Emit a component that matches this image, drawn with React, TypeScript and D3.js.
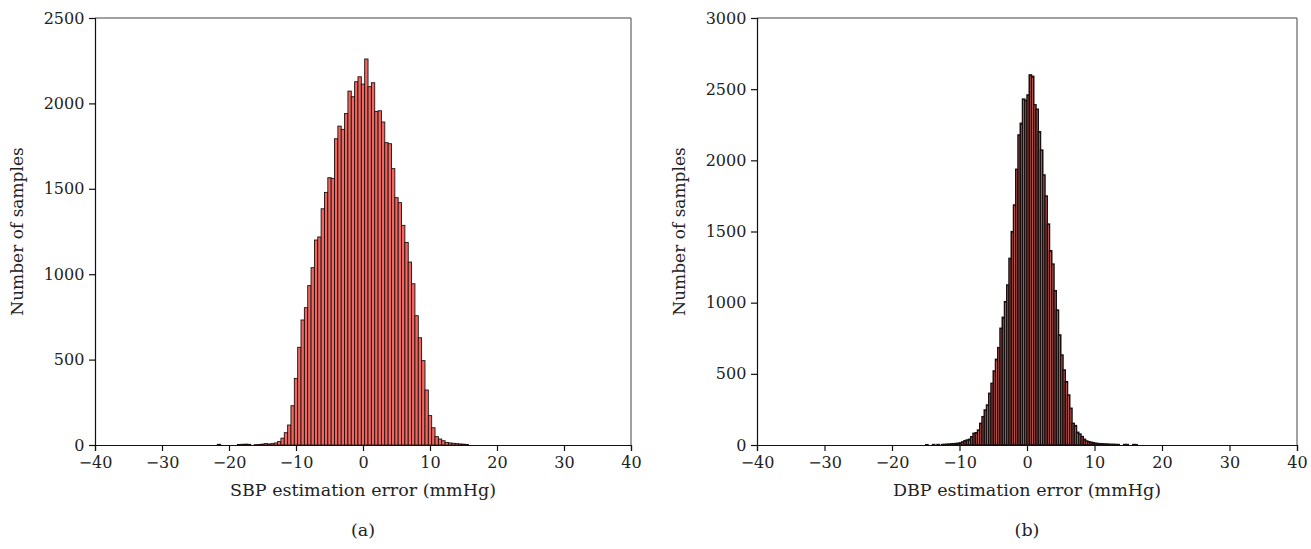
import { useEffect, useRef } from 'react';
import * as d3 from 'd3';

// SBP error histogram: bin centers every 0.5 mmHg starting at -22
const sbpStart = -22;
const sbpBinWidth = 0.5;
const sbpCounts = [
  0, 4, 0, 0, 0, 0, 0, 3, 4, 5, 4, 0, 2, 3, 5, 8, 6, 8, 12, 20, 40, 72, 117, 230,
  390, 572, 732, 804, 933, 1038, 1200, 1218, 1383, 1479, 1565, 1561, 1793, 1867,
  1848, 1941, 2072, 2039, 2127, 2156, 2113, 2260, 2098, 2121, 1953, 1957, 1891,
  1770, 1764, 1618, 1448, 1419, 1286, 1186, 1071, 944, 757, 628, 494, 322, 172,
  101, 49, 35, 25, 15, 12, 10, 8, 6, 5, 3, 0,
];

// DBP error histogram: bin left edges every 1/3 mmHg starting at -16
const dbpStart = -16;
const dbpBinWidth = 1 / 3;
const dbpCounts = [
  0, 0, 0, 2, 0, 0, 3, 0, 3, 0, 3, 4, 5, 6, 8, 9, 10, 12, 15, 22, 30, 35, 40, 58,
  82, 86, 105, 152, 199, 246, 281, 363, 433, 520, 602, 684, 820, 897, 1007, 1124,
  1311, 1499, 1686, 1937, 2178, 2260, 2430, 2420, 2459, 2600, 2590, 2390, 2359,
  2201, 2072, 1897, 1749, 1552, 1365, 1271, 1084, 948, 773, 632, 527, 445, 351,
  258, 152, 136, 89, 77, 59, 40, 28, 23, 19, 16, 12, 10, 9, 8, 7, 6, 5, 4, 4, 3,
  3, 0, 0, 3, 3, 0, 0, 3, 2,
];

const xTicks = [-40, -30, -20, -10, 0, 10, 20, 30, 40];
const sbpYTicks = [0, 500, 1000, 1500, 2000, 2500];
const dbpYTicks = [0, 500, 1000, 1500, 2000, 2500, 3000];

const FONT = '"DejaVu Serif", "Liberation Serif", serif';
const FILL = '#f1675f';

function drawPanel(root, opts) {
  const { left, right, top, bottom, yMax, yTicks, bins, xLabel, tag, barStroke } = opts;
  const g = root.append('g');

  const x = d3.scaleLinear().domain([-40, 40]).range([left, right]);
  const y = d3.scaleLinear().domain([0, yMax]).range([bottom, top]);

  // bars
  g.selectAll('.bar')
    .data(bins)
    .join('rect')
    .attr('class', 'bar')
    .attr('x', d => x(d.x0))
    .attr('y', d => y(d.count))
    .attr('width', d => x(d.x1) - x(d.x0))
    .attr('height', d => y(0) - y(d.count))
    .attr('fill', FILL)
    .attr('stroke', '#1a1010')
    .attr('stroke-width', barStroke);

  // frame (top + right)
  g.append('path')
    .attr('d', `M${left},${top}H${right}V${bottom}`)
    .attr('fill', 'none')
    .attr('stroke', '#444')
    .attr('stroke-width', 1);

  const fmt = d => (d < 0 ? `\u2212${Math.abs(d)}` : `${d}`);

  const xAxis = g.append('g')
    .attr('transform', `translate(0,${bottom})`)
    .call(d3.axisBottom(x).tickValues(xTicks).tickSize(6).tickFormat(fmt));
  xAxis.attr('font-family', FONT).attr('font-size', 16);
  xAxis.selectAll('text')
    .attr('fill', '#222')
    .attr('dy', '0.9em');

  const yAxis = g.append('g')
    .attr('transform', `translate(${left},0)`)
    .call(d3.axisLeft(y).tickValues(yTicks).tickSize(6).tickFormat(d => `${d}`));
  yAxis.attr('font-family', FONT).attr('font-size', 16);
  yAxis.selectAll('text')
    .attr('fill', '#222')
    .attr('dx', '-0.1em');

  [xAxis, yAxis].forEach(a => {
    a.select('.domain').attr('stroke', '#111').attr('stroke-width', 1.2);
    a.selectAll('.tick line').attr('stroke', '#111').attr('stroke-width', 1.2);
  });

  const cx = (left + right) / 2;
  g.append('text')
    .attr('x', cx)
    .attr('y', bottom + 51)
    .attr('text-anchor', 'middle')
    .attr('font-family', FONT)
    .attr('font-size', '17.5px')
    .attr('fill', '#222')
    .text(xLabel);

  g.append('text')
    .attr('x', cx)
    .attr('y', bottom + 91)
    .attr('text-anchor', 'middle')
    .attr('font-family', FONT)
    .attr('font-size', '17.5px')
    .attr('fill', '#222')
    .text(tag);

  g.append('text')
    .attr('transform', `translate(${left - 72},${(top + bottom) / 2}) rotate(-90)`)
    .attr('text-anchor', 'middle')
    .attr('font-family', FONT)
    .attr('font-size', '17px')
    .attr('fill', '#222')
    .text('Number of samples');
}

export default function App() {
  const svgRef = useRef(null);

  useEffect(() => {
    const svg = d3.select(svgRef.current);
    svg.selectAll('*').remove();

    const sbpBins = sbpCounts.map((c, i) => {
      const center = sbpStart + i * sbpBinWidth;
      return { x0: center - sbpBinWidth / 2, x1: center + sbpBinWidth / 2, count: c };
    }).filter(d => d.count > 0);

    const dbpBins = dbpCounts.map((c, i) => {
      const x0 = dbpStart + i * dbpBinWidth;
      return { x0, x1: x0 + dbpBinWidth, count: c };
    }).filter(d => d.count > 0);

    drawPanel(svg, {
      left: 95, right: 631, top: 18, bottom: 445,
      yMax: 2500, yTicks: sbpYTicks, bins: sbpBins, barStroke: 0.9,
      xLabel: 'SBP estimation error (mmHg)', tag: '(a)',
    });

    drawPanel(svg, {
      left: 757, right: 1297, top: 18, bottom: 445,
      yMax: 3000, yTicks: dbpYTicks, bins: dbpBins, barStroke: 1.5,
      xLabel: 'DBP estimation error (mmHg)', tag: '(b)',
    });
  }, []);

  return (
    <svg
      ref={svgRef}
      width={1311}
      height={549}
      style={{ position: 'absolute', left: 0, top: 0, background: '#fff' }}
    />
  );
}
